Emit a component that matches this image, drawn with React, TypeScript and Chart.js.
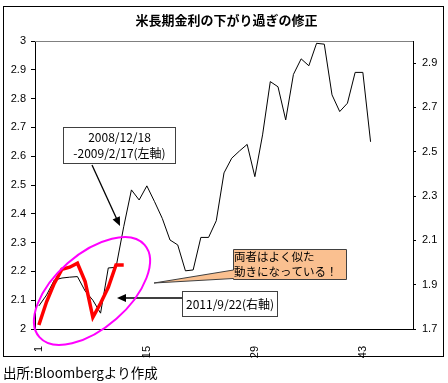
import React, { useEffect, useRef } from 'react';
import { Chart, registerables } from 'chart.js';

Chart.register(...registerables);

// Day index (business days from start of each episode)
const categories: string[] = [
  '1', '2', '3', '4', '5', '6', '7', '8', '9', '10',
  '11', '12', '13', '14', '15', '16', '17', '18', '19', '20',
  '21', '22', '23', '24', '25', '26', '27', '28', '29', '30',
  '31', '32', '33', '34', '35', '36', '37', '38', '39', '40',
  '41', '42', '43', '44', '45', '46', '47', '48', '49',
];

// 2008/12/18 - 2009/2/17 (left axis, %)
const series2008: number[] = [
  2.08, 2.118, 2.17, 2.177, 2.18, 2.182, 2.132, 2.1, 2.055, 2.212,
  2.214, 2.355, 2.483, 2.448, 2.497, 2.442, 2.384, 2.309, 2.292, 2.202,
  2.205, 2.318, 2.318, 2.376, 2.542, 2.593, 2.618, 2.641, 2.529, 2.674,
  2.859, 2.841, 2.726, 2.884, 2.938, 2.914, 2.992, 2.989, 2.813, 2.755,
  2.784, 2.891, 2.891, 2.65,
];

// 2011/9/22 - (right axis, %)
const series2011: number[] = [
  1.718, 1.823, 1.906, 1.97, 1.979, 1.997, 1.914, 1.753, 1.816, 1.888,
  1.989, 1.989,
];

const leftTicks: number[] = [2, 2.1, 2.2, 2.3, 2.4, 2.5, 2.6, 2.7, 2.8, 2.9, 3];
const rightTicks: number[] = [1.7, 1.9, 2.1, 2.3, 2.5, 2.7, 2.9];

const titleText = '米長期金利の下がり過ぎの修正';
const sourceText = '出所:Bloombergより作成';
const note2008 = ['2008/12/18', '-2009/2/17(左軸)'];
const note2011 = '2011/9/22(右軸)';
const noteSimilar = ['両者はよく似た', '動きになっている！'];

const CJK = '"Noto Sans CJK JP", "Noto Sans", sans-serif';
const LAT = '"Liberation Sans", Arial, sans-serif';

function fmt(v: number): string {
  return String(Number(Number(v).toFixed(1)));
}

function drawArrow(ctx: CanvasRenderingContext2D, x1: number, y1: number, x2: number, y2: number) {
  const ang = Math.atan2(y2 - y1, x2 - x1);
  const head = 9;
  const hw = 4;
  const c = Math.cos(ang), s = Math.sin(ang);
  ctx.beginPath();
  ctx.moveTo(x1, y1);
  ctx.lineTo(x2 - head * 0.8 * c, y2 - head * 0.8 * s);
  ctx.stroke();
  ctx.beginPath();
  ctx.moveTo(x2, y2);
  ctx.lineTo(x2 - head * c + hw * s, y2 - head * s - hw * c);
  ctx.lineTo(x2 - head * c - hw * s, y2 - head * s + hw * c);
  ctx.closePath();
  ctx.fill();
}

const decorPlugin = {
  id: 'decor',
  beforeDraw(chart: any) {
    const ctx: CanvasRenderingContext2D = chart.ctx;
    ctx.save();
    ctx.fillStyle = '#fff';
    ctx.fillRect(0, 0, chart.width, chart.height);
    ctx.restore();
  },
  afterDraw(chart: any) {
    const ctx: CanvasRenderingContext2D = chart.ctx;
    const ca = chart.chartArea;
    ctx.save();
    // plot top border (gray)
    ctx.strokeStyle = '#808080';
    ctx.lineWidth = 1;
    ctx.beginPath();
    ctx.moveTo(ca.left, Math.round(ca.top) + 0.5);
    ctx.lineTo(ca.right, Math.round(ca.top) + 0.5);
    ctx.stroke();

    // outer frame
    ctx.strokeStyle = '#000';
    ctx.strokeRect(3.5, 6.5, 440, 350);

    // title
    ctx.fillStyle = '#000';
    ctx.font = 'bold 13px ' + CJK;
    ctx.textAlign = 'center';
    ctx.textBaseline = 'middle';
    ctx.fillText(titleText, 226.5, 20);

    // source
    ctx.font = '13.5px ' + CJK;
    ctx.textAlign = 'left';
    ctx.fillText(sourceText, 3, 373);

    // box 1 (2008)
    ctx.fillStyle = '#fff';
    ctx.fillRect(63, 127, 112, 36);
    ctx.strokeStyle = '#404040';
    ctx.strokeRect(63.5, 127.5, 112, 36);
    ctx.fillStyle = '#000';
    ctx.font = '12px ' + CJK;
    ctx.textAlign = 'center';
    ctx.fillText(note2008[0], 119.5, 137.5);
    ctx.fillText(note2008[1], 119.5, 153);

    // arrow 1
    ctx.strokeStyle = '#000';
    ctx.fillStyle = '#000';
    ctx.lineWidth = 1.3;
    drawArrow(ctx, 92, 165, 120, 226);

    // orange callout
    ctx.lineWidth = 1;
    ctx.fillStyle = '#FAC090';
    ctx.strokeStyle = '#404040';
    ctx.beginPath();
    ctx.moveTo(233.5, 249.5);
    ctx.lineTo(346.5, 249.5);
    ctx.lineTo(346.5, 279.5);
    ctx.lineTo(233.5, 279.5);
    ctx.lineTo(233.5, 278.5);
    ctx.lineTo(154, 283);
    ctx.lineTo(233.5, 270);
    ctx.closePath();
    ctx.fill();
    ctx.stroke();
    ctx.fillStyle = '#000';
    ctx.font = '11.5px ' + CJK;
    ctx.textAlign = 'left';
    ctx.fillText(noteSimilar[0], 234, 257);
    ctx.fillText(noteSimilar[1], 234, 272);

    // box 2 (2011)
    ctx.fillStyle = '#fff';
    ctx.fillRect(182, 291, 95, 25);
    ctx.strokeStyle = '#404040';
    ctx.strokeRect(182.5, 291.5, 95, 25);
    ctx.fillStyle = '#000';
    ctx.font = '12px ' + CJK;
    ctx.textAlign = 'left';
    ctx.fillText(note2011, 186, 304);

    // arrow 2
    ctx.strokeStyle = '#000';
    ctx.fillStyle = '#000';
    ctx.lineWidth = 1.3;
    drawArrow(ctx, 182, 298, 117, 298);

    // magenta ellipse
    ctx.strokeStyle = '#FF00FF';
    ctx.lineWidth = 2;
    ctx.beginPath();
    ctx.ellipse(92, 291, 70, 37, (-41.3 * Math.PI) / 180, 0, Math.PI * 2);
    ctx.stroke();
    ctx.restore();
  },
};

export default function App() {
  const ref = useRef<HTMLCanvasElement | null>(null);
  useEffect(() => {
    if (!ref.current) return;
    const chart = new Chart(ref.current, {
      type: 'line',
      data: {
        labels: categories,
        datasets: [
          {
            label: '2011/9/22',
            data: series2011,
            yAxisID: 'yR',
            borderColor: '#FF0000',
            borderWidth: 3.5,
            pointRadius: 0,
            tension: 0,
            fill: false,
          },
          {
            label: '2008/12/18-2009/2/17',
            data: series2008,
            yAxisID: 'yL',
            borderColor: '#000000',
            borderWidth: 1,
            pointRadius: 0,
            tension: 0,
            fill: false,
          },
        ],
      },
      options: {
        animation: false,
        responsive: false,
        devicePixelRatio: 1,
        layout: { padding: { top: 41, left: 0, right: 0, bottom: 0 } },
        plugins: {
          legend: { display: false },
          title: { display: false },
          tooltip: { enabled: false },
        },
        scales: {
          x: {
            type: 'category',
            offset: true,
            grid: { display: false },
            border: { display: true, color: '#000', width: 1 },
            ticks: {
              autoSkip: false,
              maxRotation: 90,
              minRotation: 90,
              padding: 9,
              color: '#000',
              font: { family: LAT, size: 11 },
              callback: (_v: any, i: number) => (i % 14 === 0 ? categories[i] : ''),
            },
            afterFit: (s: any) => {
              s.height = 54;
            },
          },
          yL: {
            type: 'linear',
            position: 'left',
            min: 2,
            max: 3,
            grid: { drawOnChartArea: false, tickLength: 4, color: '#000' },
            border: { display: true, color: '#000', width: 1 },
            afterBuildTicks: (s: any) => {
              s.ticks = leftTicks.map((v) => ({ value: v }));
            },
            ticks: {
              padding: 5,
              color: '#000',
              font: { family: LAT, size: 11 },
              callback: (v: any) => fmt(v),
            },
            afterFit: (s: any) => {
              s.width = 35;
            },
          },
          yR: {
            type: 'linear',
            position: 'right',
            min: 1.7,
            max: 3.0,
            grid: { drawOnChartArea: false, tickLength: 3, color: '#000' },
            border: { display: true, color: '#000', width: 1 },
            afterBuildTicks: (s: any) => {
              s.ticks = rightTicks.map((v) => ({ value: v }));
            },
            ticks: {
              padding: 6,
              color: '#000',
              font: { family: LAT, size: 11 },
              callback: (v: any) => fmt(v),
            },
            afterFit: (s: any) => {
              s.width = 35;
            },
          },
        },
      },
      plugins: [decorPlugin],
    });
    return () => chart.destroy();
  }, []);
  return (
    <div style={{ position: 'absolute', left: 0, top: 0, width: 448, height: 383 }}>
      <canvas ref={ref} width={448} height={383} />
    </div>
  );
}
